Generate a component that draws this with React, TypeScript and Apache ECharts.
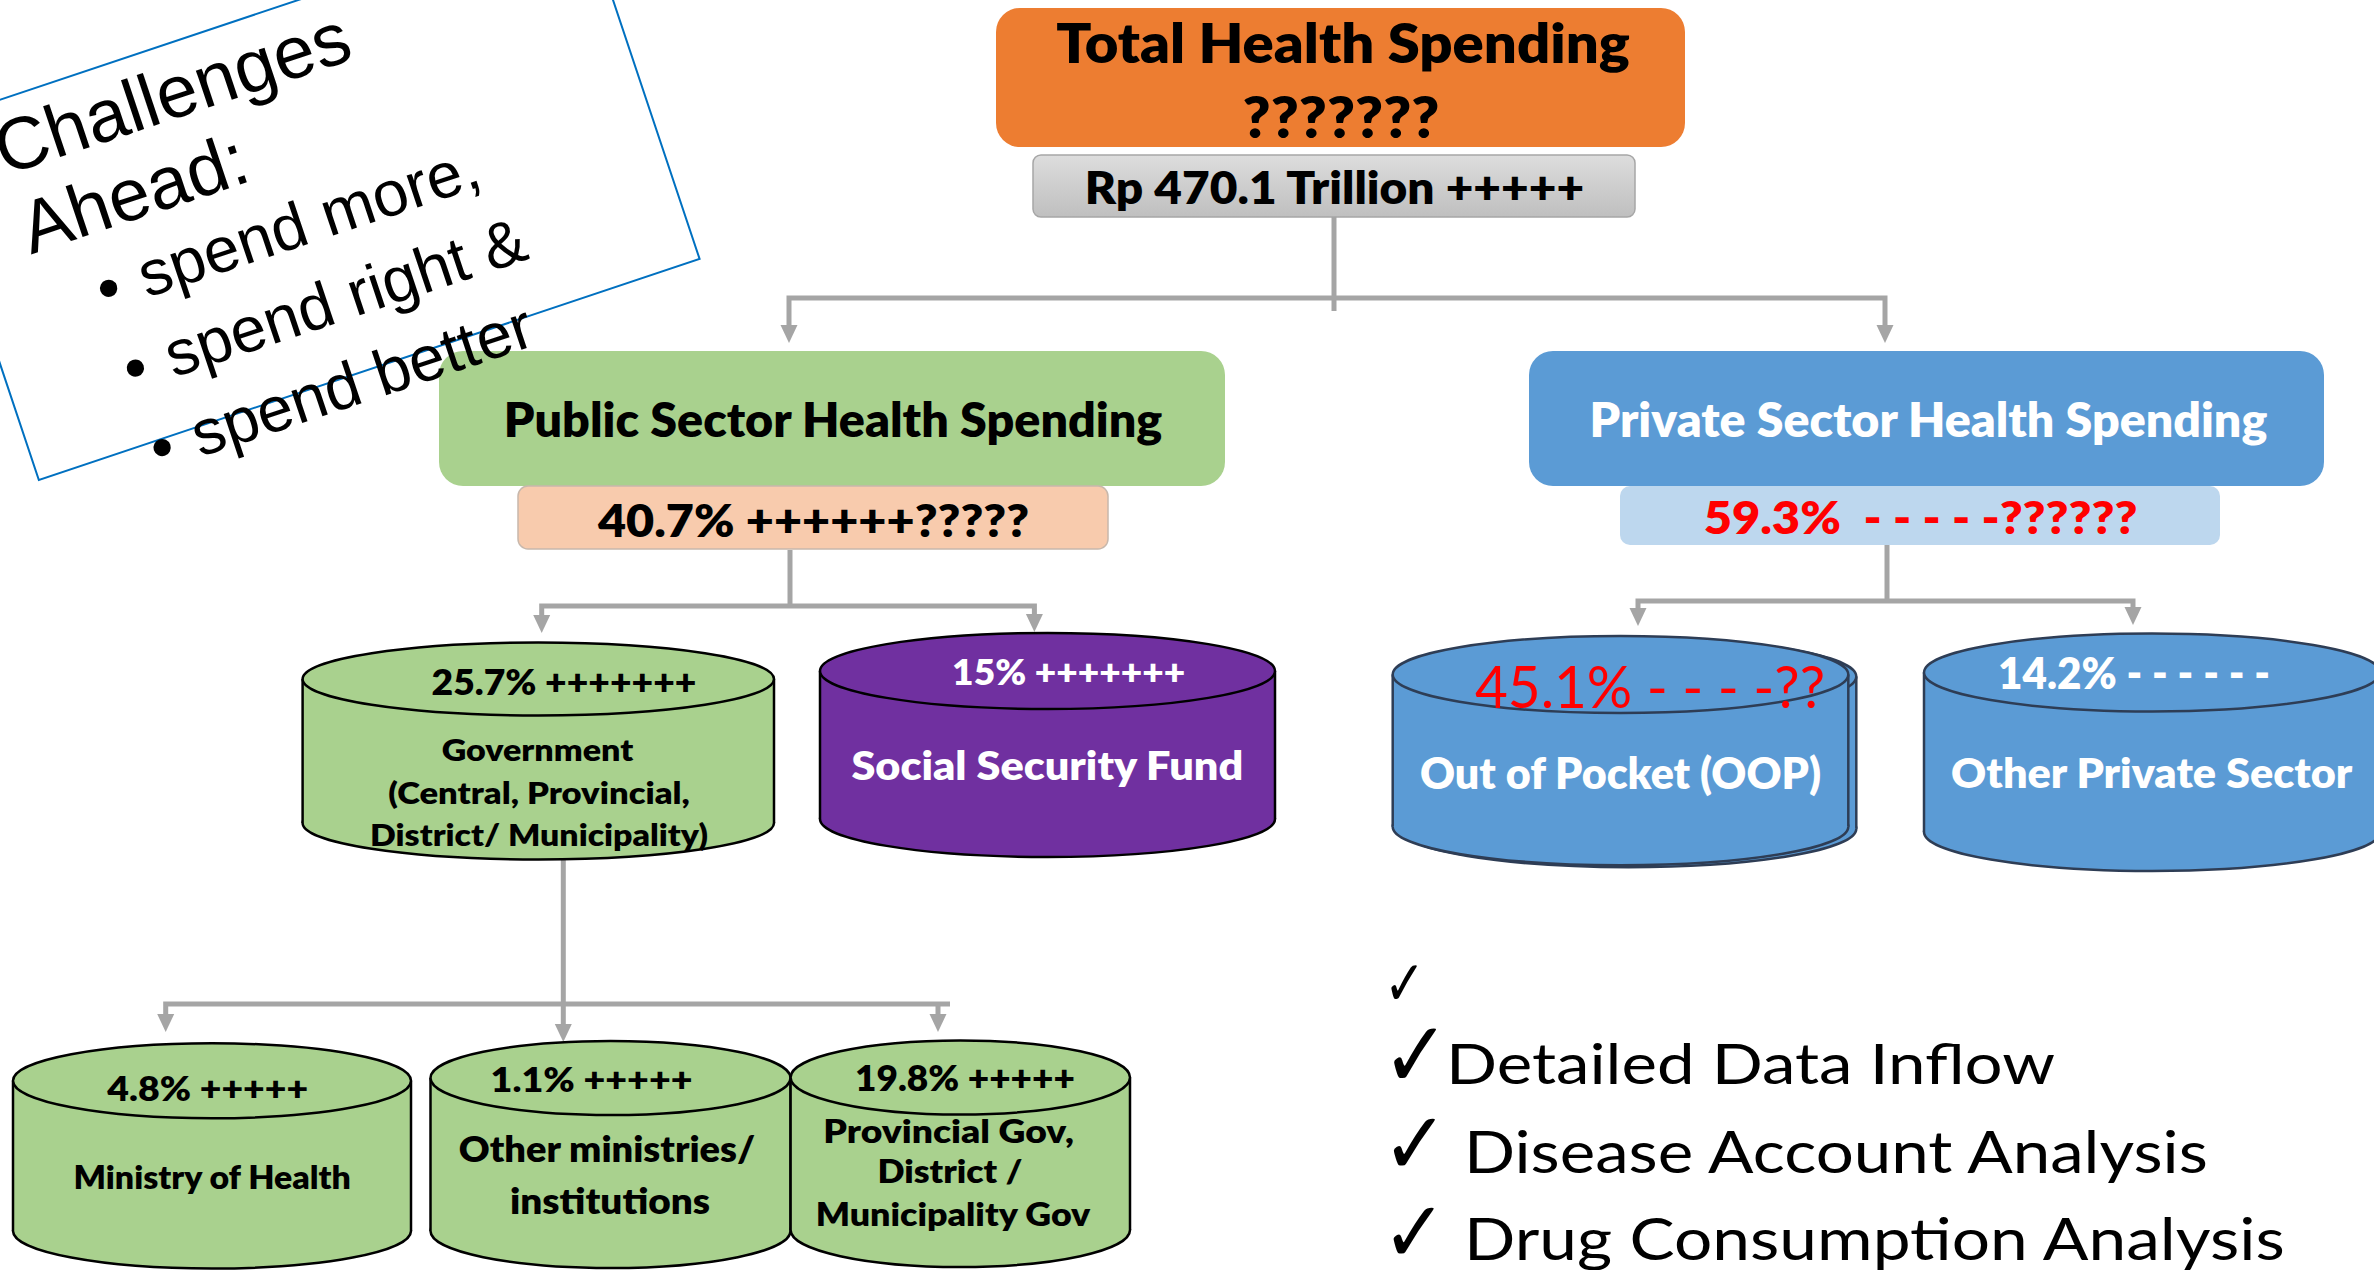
import React, { useEffect, useRef } from 'react';
import * as echarts from 'echarts';

// ---------------- data (texts of the diagram) ----------------
const totalTitle = ['Total Health Spending', '???????'];
const totalValue = 'Rp 470.1 Trillion +++++';
const sectorNames = ['Public Sector Health Spending', 'Private Sector Health Spending'];
const sectorShares = ['40.7% ++++++?????', '59.3%  - - - - -??????'];
const publicFundShares = ['25.7% +++++++', '15% +++++++'];
const publicFundNames = [['Government', '(Central, Provincial,', 'District/ Municipality)'], ['Social Security Fund']];
const privateFundShares = ['45.1% - - - -??', '14.2% - - - - - -'];
const privateFundNames = ['Out of Pocket (OOP)', 'Other Private Sector'];
const govShares = ['4.8% +++++', '1.1% +++++', '19.8% +++++'];
const govNames = [['Ministry of Health'], ['Other ministries/', 'institutions'], ['Provincial Gov,', 'District /', 'Municipality Gov']];
const challengeTitle = ['Challenges', 'Ahead:'];
const challengeBullets = ['spend more,', 'spend right &', 'spend better'];
const checklist = ['Detailed Data Inflow', 'Disease Account Analysis', 'Drug Consumption Analysis'];

// ---------------- styling helpers ----------------
const FONT = 'Lato, "Open Sans", sans-serif';
const CAP = 0.7165;
const LINE = '#A5A5A5';
const BOLD = '800';
let mctx: CanvasRenderingContext2D | null = null;
function measure(text: string, font: string) {
  if (!mctx) mctx = document.createElement('canvas').getContext('2d');
  mctx!.font = font;
  return mctx!.measureText(text).width;
}

function T(text: string, x: number, base: number, cap: number, width: number,
  color = '#000', weight = BOLD, align = 'center') {
  const fs = cap / CAP;
  const font = `${weight} ${fs.toFixed(1)}px ${FONT}`;
  const w = measure(text, font);
  const sx = w > 0 ? width / w : 1;
  return {
    type: 'text', x, y: base - cap / 2, scaleX: sx, silent: true,
    style: { text, font, fill: color, align, verticalAlign: 'middle', textAlign: align, textVerticalAlign: 'middle' },
  };
}

function check(x: number, cy: number, fs: number, sx: number) {
  const font = `${fs}px "DejaVu Sans"`;
  return {
    type: 'text', x, y: cy, scaleX: sx, silent: true,
    style: { text: '✓', font, fill: '#000', align: 'left', verticalAlign: 'middle', textAlign: 'left', textVerticalAlign: 'middle' },
  };
}

function box(x: number, y: number, w: number, h: number, r: number, fill: any, stroke?: string, lw = 1.5) {
  return { type: 'rect', shape: { x, y, width: w, height: h, r }, style: { fill, stroke: stroke || 'none', lineWidth: stroke ? lw : 0 } };
}

function cylinder(cx: number, cyTop: number, cyBot: number, rx: number, ry: number, fill: string, stroke: string, lw = 2.5) {
  return [
    { type: 'ellipse', shape: { cx, cy: cyBot, rx, ry }, style: { fill, stroke, lineWidth: lw } },
    { type: 'rect', shape: { x: cx - rx, y: cyTop, width: 2 * rx, height: cyBot - cyTop }, style: { fill } },
    { type: 'line', shape: { x1: cx - rx, y1: cyTop, x2: cx - rx, y2: cyBot }, style: { stroke, lineWidth: lw } },
    { type: 'line', shape: { x1: cx + rx, y1: cyTop, x2: cx + rx, y2: cyBot }, style: { stroke, lineWidth: lw } },
    { type: 'ellipse', shape: { cx, cy: cyTop, rx, ry }, style: { fill, stroke, lineWidth: lw } },
  ];
}

function seg(points: number[][]) {
  return { type: 'polyline', shape: { points }, style: { stroke: LINE, lineWidth: 5, fill: 'none' } };
}
function head(x: number, tip: number, w = 17, h = 18) {
  return { type: 'polygon', shape: { points: [[x - w / 2, tip - h], [x + w / 2, tip - h], [x, tip]] }, style: { fill: LINE } };
}

function buildOption() {
  const els: any[] = [];

  // top boxes
  els.push(box(996, 8, 689, 139, 24, '#ED7D31'));
  els.push(box(1033, 155, 602, 62, 8,
    new echarts.graphic.LinearGradient(0, 0, 0, 1, [{ offset: 0, color: '#DDDDDD' }, { offset: 1, color: '#BFBFBF' }]),
    '#A6A6A6', 1.5));
  // sector boxes
  els.push(box(439, 351, 786, 135, 24, '#A9D18E'));
  els.push(box(518, 486, 590, 63, 10, '#F8CBAD', '#C8B8AC', 1.5));
  els.push(box(1529, 351, 795, 135, 24, '#5B9BD5'));
  els.push(box(1620, 486, 600, 59, 10, '#BDD7EE'));

  // connectors
  els.push(seg([[1334, 217], [1334, 311]]));
  els.push(seg([[789, 326], [789, 298], [1885, 298], [1885, 326]]));
  els.push(head(789, 343), head(1885, 343));

  els.push(seg([[790, 550], [790, 606]]));
  els.push(seg([[541.7, 616], [541.7, 606], [1034.4, 606], [1034.4, 616]]));
  els.push(head(541.7, 633), head(1034.4, 632));

  els.push(seg([[1887, 545], [1887, 601]]));
  els.push(seg([[1638, 609], [1638, 601], [2133, 601], [2133, 609]]));
  els.push(head(1638, 626), head(2133, 625));

  els.push(seg([[563.3, 858], [563.3, 1026]]));
  els.push(seg([[165.7, 1015], [165.7, 1004], [950, 1004]]));
  els.push(seg([[938, 1004], [938, 1015]]));
  els.push(head(165.7, 1032), head(563.3, 1042), head(938, 1032));

  // cylinders
  els.push(...cylinder(538.3, 679, 823, 235.7, 36.5, '#A9D18E', '#000'));
  els.push(...cylinder(1047.5, 671, 819, 227.5, 38, '#7030A0', '#000'));
  els.push(...cylinder(1628.5, 676.5, 828.7, 227.8, 38.5, '#5B9BD5', '#2E3D55'));
  els.push(...cylinder(1620.5, 674.5, 826.7, 227.8, 38.5, '#5B9BD5', '#2E3D55'));
  els.push(...cylinder(2152, 672.5, 832, 228, 39, '#5B9BD5', '#2E3D55'));
  els.push(...cylinder(212, 1080.8, 1231, 199, 37.5, '#A9D18E', '#000'));
  els.push(...cylinder(610.5, 1078, 1231, 180, 37, '#A9D18E', '#000'));
  els.push(...cylinder(960.3, 1077.5, 1230, 169.7, 37, '#A9D18E', '#000'));

  // texts
  els.push(T(totalTitle[0], 1343, 61.7, 38.7, 574));
  els.push(T(totalTitle[1], 1341, 136.7, 40, 197));
  els.push(T(totalValue, 1334.5, 203.3, 33, 501));
  els.push(T(sectorNames[0], 833, 436, 34, 660));
  els.push(T(sectorNames[1], 1928.4, 436, 34, 679, '#fff'));
  els.push(T(sectorShares[0], 813.5, 535, 33, 431));
  els.push(T(sectorShares[1], 1920.6, 533, 33, 434, '#FF0000'));

  els.push(T(publicFundShares[0], 564, 694, 25.7, 265));
  els.push(T(publicFundNames[0][0], 537.5, 760, 21.7, 191.7));
  els.push(T(publicFundNames[0][1], 539, 803.3, 21.7, 301.7));
  els.push(T(publicFundNames[0][2], 539, 845, 21.7, 338));
  els.push(T(publicFundShares[1], 1068.7, 684, 25.5, 233, '#fff'));
  els.push(T(publicFundNames[1][0], 1047.3, 778.6, 29, 393, '#fff'));

  els.push(T(privateFundShares[0], 1650, 706, 41, 350, '#FF0000', 'normal'));
  els.push(T(privateFundNames[0], 1620.5, 787.7, 31, 402, '#fff'));
  els.push(T(privateFundShares[1], 2134, 687.3, 30.7, 272, '#fff'));
  els.push(T(privateFundNames[1], 2151.7, 786.7, 30, 402, '#fff'));

  els.push(T(govShares[0], 207.8, 1100.7, 24, 201));
  els.push(T(govNames[0][0], 212.2, 1188.3, 23.3, 279));
  els.push(T(govShares[1], 591.6, 1091.7, 24, 202));
  els.push(T(govNames[1][0], 607, 1161.7, 25.5, 297));
  els.push(T(govNames[1][1], 610, 1213.3, 25.5, 200));
  els.push(T(govShares[2], 965, 1090, 25, 220));
  els.push(T(govNames[2][0], 948.7, 1141.5, 22.4, 250.7));
  els.push(T(govNames[2][1], 950, 1182, 22.4, 145));
  els.push(T(govNames[2][2], 953, 1225, 22.4, 275.7));

  // checklist
  els.push(check(1384, 983, 63, 0.78));
  els.push(check(1382, 1055, 93, 0.87));
  els.push(check(1382, 1144, 88, 0.9));
  els.push(check(1382, 1232, 86, 0.9));
  els.push(T(checklist[0], 1446, 1082.7, 40.5, 609, '#000', 'normal', 'left'));
  els.push(T(checklist[1], 1464, 1171.7, 42, 748, '#000', 'normal', 'left'));
  els.push(T(checklist[2], 1464, 1258.3, 42, 823, '#000', 'normal', 'left'));

  // rotated "Challenges Ahead" text box
  const AR = 'Liberation Sans, Arial, sans-serif';
  const ct = (text: string, x: number, base: number, fs: number, align = 'left') => ({
    type: 'text', x, y: base - 0.35 * fs, silent: true,
    style: { text, font: `${fs}px ${AR}`, fill: '#000', align, verticalAlign: 'middle', textAlign: align, textVerticalAlign: 'middle' },
  });
  const children: any[] = [
    { type: 'rect', shape: { x: 0, y: 0, width: 697, height: 373 }, style: { fill: 'none', stroke: '#0070C0', lineWidth: 2 } },
    ct(challengeTitle[0], 64, 74, 74),
    ct(challengeTitle[1], 64, 157, 74),
  ];
  const bulletBase = [235, 319, 403];
  challengeBullets.forEach((b, i) => {
    children.push(ct('•', 127, bulletBase[i], 64, 'center'));
    children.push(ct(b, 160, bulletBase[i], 64));
  });
  els.push({ type: 'group', x: -79.4, y: 126.3, rotation: 18.5 * Math.PI / 180, children });

  return { animation: false, backgroundColor: '#ffffff', graphic: { elements: els } };
}

export default function App() {
  const ref = useRef<HTMLDivElement>(null);
  useEffect(() => {
    const chart = echarts.init(ref.current!, null, { renderer: 'svg' });
    chart.setOption(buildOption() as any);
    return () => chart.dispose();
  }, []);
  return (
    <div
      ref={ref}
      style={{ position: 'fixed', left: 0, top: 0, width: 2374, height: 1270, background: '#fff' }}
    />
  );
}
